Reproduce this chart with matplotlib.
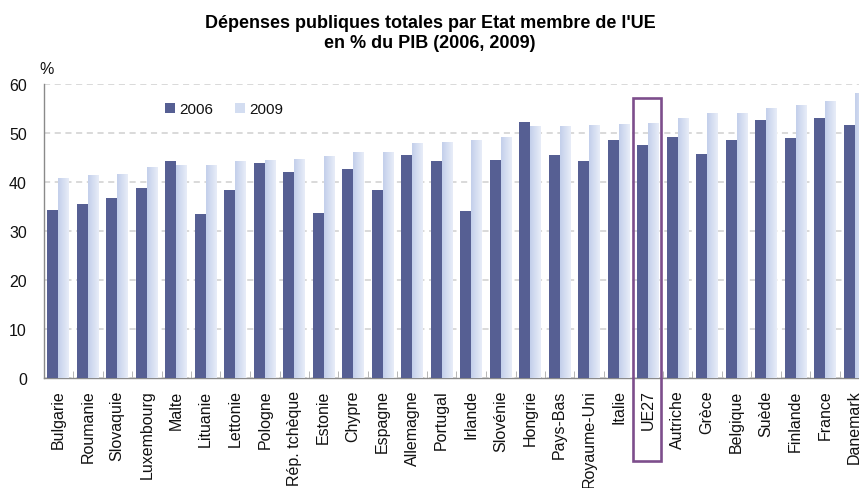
import numpy as np
import matplotlib
matplotlib.use("Agg")
import matplotlib.pyplot as plt
from matplotlib.patches import Rectangle
from matplotlib.colors import LinearSegmentedColormap

plt.rcParams['font.family'] = ['Liberation Sans', 'DejaVu Sans']

countries = ["Bulgarie", "Roumanie", "Slovaquie", "Luxembourg", "Malte", "Lituanie",
             "Lettonie", "Pologne", "Rép. tchèque", "Estonie", "Chypre", "Espagne",
             "Allemagne", "Portugal", "Irlande", "Slovénie", "Hongrie", "Pays-Bas",
             "Royaume-Uni", "Italie", "UE27", "Autriche", "Grèce", "Belgique",
             "Suède", "Finlande", "France", "Danemark"]
dep_2006 = [34.4, 35.5, 36.7, 38.7, 44.4, 33.4, 38.3, 43.9, 42.1, 33.6, 42.6, 38.3,
            45.6, 44.4, 34.2, 44.5, 52.2, 45.5, 44.2, 48.5, 47.6, 49.1, 45.7, 48.6,
            52.7, 49.0, 53.0, 51.6]
dep_2009 = [40.8, 41.4, 41.6, 43.1, 43.5, 43.5, 44.3, 44.5, 44.7, 45.3, 46.1, 46.1,
            48.0, 48.2, 48.6, 49.2, 51.4, 51.4, 51.6, 51.8, 52.0, 53.1, 54.1, 54.1,
            55.1, 55.7, 56.5, 58.2]
years = ["2006", "2009"]
highlight = "UE27"

DARK = "#565f93"
LIGHT = "#d3ddf1"
GRID = "#d0d0d0"
AXIS = "#8a8a8a"

W, H = 859, 489
fig = plt.figure(figsize=(W / 100, H / 100), dpi=100)
ax_left, ax_right = 43.5, 859.0
ax_top, ax_bottom = 85.0, 379.3
ax = fig.add_axes([ax_left / W, 1 - ax_bottom / H,
                   (ax_right - ax_left) / W, (ax_bottom - ax_top) / H])

x = np.arange(len(countries))
bw = 0.37
off = 0.19
ax.bar(x - off, dep_2006, width=bw, color=DARK, zorder=3, label=years[0])
light_bars = ax.bar(x + off, dep_2009, width=bw, color=LIGHT, zorder=3, label=years[1])

# horizontal gradient on the 2009 bars
cmap = LinearSegmentedColormap.from_list("pale", ["#c3cfeb", "#e8edf8"])
grad = np.linspace(0, 1, 64).reshape(1, -1)
for b in light_bars:
    x0, w, h = b.get_x(), b.get_width(), b.get_height()
    im = ax.imshow(grad, cmap=cmap, extent=(x0, x0 + w, 0, h), aspect="auto",
                   zorder=3.5, interpolation="bilinear")
    im.set_clip_path(b)

ax.set_yticks(np.arange(0, 61, 10))
ax.yaxis.grid(True, linestyle=(0, (4, 3)), color=GRID, linewidth=1.1, zorder=0)
ax.set_axisbelow(True)

for s in ["top", "right"]:
    ax.spines[s].set_visible(False)
for s in ["left", "bottom"]:
    ax.spines[s].set_color(AXIS)
    ax.spines[s].set_linewidth(1.0)

ax.set_xticks(x)
ax.set_xticklabels(countries, rotation=90, ha="center", va="top", fontsize=11.5,
                   color="#111111")
ax.tick_params(axis="x", which="major", length=0, pad=8)
ax.set_xticks(np.arange(len(countries)) + 0.5, minor=True)
ax.tick_params(axis="x", which="minor", direction="in", length=5, color="#aaaaaa")
ax.tick_params(axis="y", length=0, pad=12, labelsize=11.5, labelcolor="#111111")

# the category axis runs past the right edge of the figure
ax.set_xlim(-0.5, (ax_right - ax_left) / 29.5 - 0.5)
ax.set_ylim(0, 60)

# UE27 highlight frame
i = countries.index(highlight)
ax.add_patch(Rectangle((i - 0.52, -16.9), 0.95, 57.1 + 16.9, fill=False,
                       edgecolor="#7d4e8c", linewidth=1.9, clip_on=False, zorder=6))

leg = ax.legend(loc="center left", bbox_to_anchor=(0.149, 0.915), ncol=2,
                frameon=False, fontsize=11, handlelength=0.65, handleheight=0.65,
                handletextpad=0.3, columnspacing=1.4, borderpad=0, borderaxespad=0)
for t in leg.get_texts():
    t.set_color("#111111")

fig.text(47 / W, 1 - 69 / H, "%", ha="center", va="center", fontsize=11.5, color="#111111")
fig.text(430 / W, 1 - 24 / H, "Dépenses publiques totales par Etat membre de l'UE",
         ha="center", va="center", fontsize=13, fontweight="bold")
fig.text(430 / W, 1 - 44 / H, "en % du PIB (2006, 2009)",
         ha="center", va="center", fontsize=13, fontweight="bold")

fig.savefig("out.png", dpi=100)
